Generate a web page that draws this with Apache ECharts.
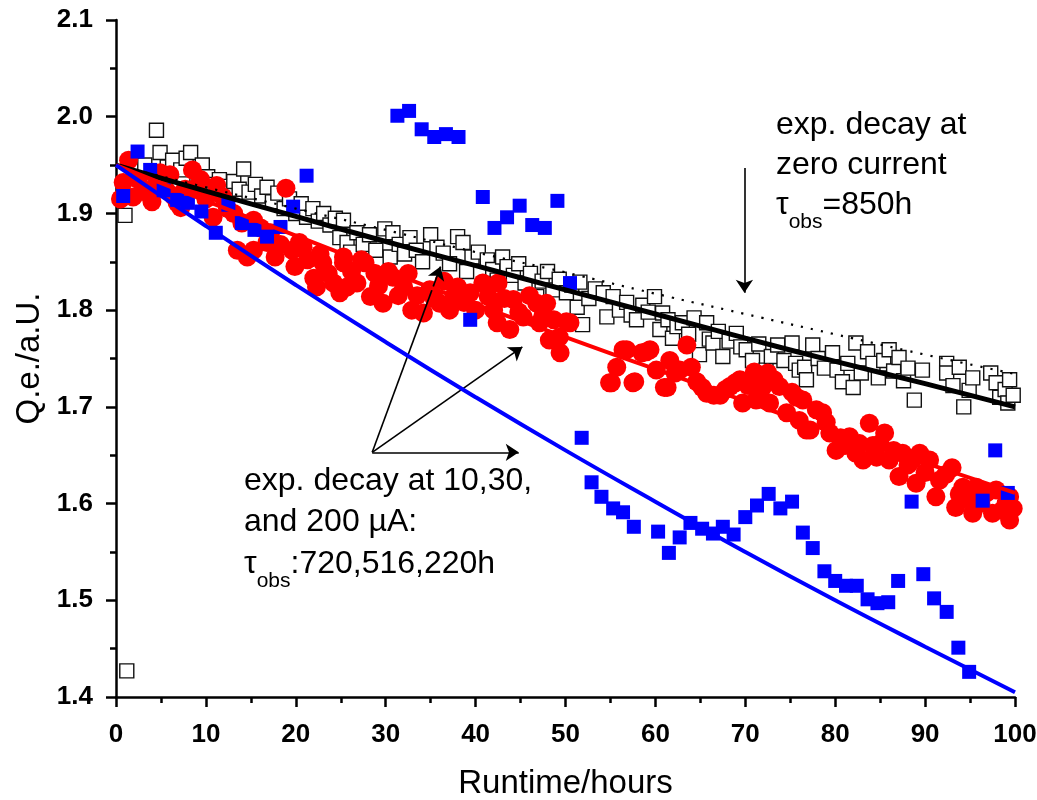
<!DOCTYPE html>
<html>
<head>
<meta charset="utf-8">
<script src="https://cdn.jsdelivr.net/npm/echarts@6/dist/echarts.min.js"></script>
<style>
  html, body { margin: 0; padding: 0; background: #fff; }
  #chart { width: 1037px; height: 800px; }
</style>
</head>
<body>
<div id="chart"></div>
<script>
// Runtime (hours) vs. quantum efficiency, three operating currents

// Zero current: open squares [hours, Q.e.]
const zeroCurrent = [
  [1.0,1.898],[1.2,1.427],[2.5,1.945],[3.2,1.950],[4.5,1.986],[4.9,1.963],[5.7,1.948],[6.3,1.955],
  [7.2,1.945],[7.8,1.957],[8.3,1.963],[9.0,1.940],[9.6,1.950],[10.2,1.938],[10.9,1.930],[11.5,1.935],
  [12.2,1.928],[13.1,1.933],[13.7,1.925],[14.2,1.946],[14.8,1.922],[15.5,1.930],[16.2,1.918],[16.8,1.927],
  [17.4,1.912],[18.0,1.921],[18.7,1.905],[19.3,1.915],[20.0,1.900],[20.6,1.910],[21.2,1.896],[21.9,1.905],
  [22.5,1.892],[23.1,1.900],[23.8,1.888],[24.4,1.895],[24.9,1.875],[25.3,1.893],[25.7,1.870],[26.1,1.860],
  [26.8,1.880],[27.5,1.868],[28.2,1.878],[28.9,1.862],[29.9,1.884],[30.5,1.855],[30.8,1.880],[31.5,1.868],
  [32.1,1.858],[32.7,1.875],[33.4,1.862],[34.1,1.850],[35.0,1.878],[35.7,1.865],[36.4,1.859],[37.1,1.848],
  [38.0,1.876],[38.6,1.870],[39.0,1.840],[39.6,1.855],[40.3,1.860],[41.3,1.852],[41.9,1.842],[42.4,1.831],
  [43.0,1.855],[43.5,1.845],[44.2,1.836],[44.8,1.848],[45.5,1.828],[46.1,1.838],[46.8,1.814],[47.4,1.830],
  [48.0,1.840],[48.6,1.821],[49.3,1.832],[50.1,1.818],[50.7,1.826],[51.3,1.803],[51.6,1.829],[51.9,1.785],
  [52.6,1.812],[53.3,1.822],[54.2,1.818],[54.6,1.793],[55.3,1.814],[56.0,1.800],[56.8,1.808],[57.3,1.795],
  [57.9,1.790],[58.6,1.805],[59.2,1.798],[59.9,1.814],[60.5,1.780],[60.8,1.797],[61.4,1.790],[61.9,1.771],
  [62.4,1.783],[63.0,1.787],[63.7,1.775],[64.3,1.792],[64.9,1.754],[65.7,1.787],[66.0,1.770],[66.4,1.766],
  [67.0,1.778],[67.5,1.752],[68.2,1.768],[69.0,1.776],[69.5,1.762],[70.1,1.759],[70.8,1.748],[71.5,1.765],
  [72.3,1.738],[72.9,1.752],[73.6,1.764],[74.3,1.748],[75.2,1.766],[75.6,1.745],[76.0,1.738],[76.6,1.741],
  [76.8,1.728],[77.5,1.764],[78.1,1.750],[78.8,1.740],[79.7,1.756],[80.2,1.738],[80.8,1.726],[81.4,1.745],
  [82.0,1.720],[82.3,1.766],[82.9,1.735],[83.6,1.757],[84.2,1.745],[84.8,1.730],[85.4,1.748],[86.0,1.759],
  [86.5,1.737],[87.1,1.751],[87.6,1.727],[88.1,1.740],[88.8,1.707],[89.7,1.738],[92.4,1.745],[92.4,1.735],
  [93.1,1.722],[93.8,1.741],[94.3,1.700],[94.9,1.717],[95.3,1.730],[97.3,1.735],[97.9,1.725],[98.3,1.710],
  [98.9,1.718],[99.2,1.704],[99.4,1.728],[99.8,1.712]
];

// 10 µA: filled circles
const current10 = [
  [0.5,1.915],[0.8,1.932],[1.4,1.955],[1.9,1.917],[2.5,1.935],[3.0,1.925],[3.5,1.921],[4.0,1.912],
  [4.5,1.930],[4.9,1.942],[5.5,1.925],[6.0,1.940],[6.4,1.918],[6.8,1.911],[7.2,1.906],[7.7,1.925],
  [8.5,1.945],[9.0,1.927],[9.4,1.935],[10.0,1.915],[10.8,1.896],[11.2,1.929],[11.9,1.917],[12.4,1.905],
  [13.1,1.900],[13.5,1.862],[14.0,1.890],[14.6,1.855],[15.3,1.862],[15.3,1.893],[16.1,1.885],[16.8,1.870],
  [17.2,1.880],[17.7,1.855],[18.3,1.868],[18.9,1.926],[19.6,1.862],[19.9,1.845],[20.4,1.870],[20.8,1.865],
  [21.3,1.852],[22.0,1.833],[22.3,1.824],[22.7,1.858],[23.0,1.849],[23.6,1.838],[24.2,1.828],[24.9,1.818],
  [25.3,1.849],[25.3,1.855],[25.7,1.824],[26.2,1.840],[26.8,1.828],[27.3,1.852],[27.7,1.849],[28.3,1.814],
  [28.8,1.838],[29.2,1.825],[29.7,1.807],[30.3,1.840],[30.8,1.834],[31.4,1.815],[32.0,1.824],[32.5,1.838],
  [32.9,1.800],[33.5,1.815],[34.2,1.797],[34.9,1.821],[35.4,1.812],[36.0,1.807],[36.5,1.830],[37.1,1.800],
  [37.6,1.815],[38.0,1.824],[38.7,1.808],[39.4,1.818],[40.0,1.800],[40.8,1.828],[41.4,1.814],[42.0,1.800],
  [42.4,1.787],[42.5,1.828],[43.2,1.812],[43.8,1.780],[44.2,1.811],[44.8,1.798],[45.3,1.793],[46.0,1.815],
  [46.8,1.807],[47.1,1.787],[47.5,1.795],[47.9,1.807],[48.2,1.769],[48.7,1.790],[49.3,1.772],[49.4,1.756],
  [50.1,1.788],[50.5,1.787],
  [54.9,1.725],[55.1,1.725],[55.7,1.741],[56.4,1.759],[56.8,1.759],[57.5,1.725],[57.7,1.726],[58.5,1.756],
  [59.0,1.757],[59.4,1.759],[60.1,1.738],[61.0,1.720],[61.3,1.720],[61.6,1.748],[62.2,1.735],[62.7,1.738],
  [63.5,1.764],[64.0,1.741],[64.6,1.726],[65.2,1.720],[65.7,1.714],[66.5,1.712],[67.2,1.712],[67.8,1.718],
  [68.3,1.721],[68.9,1.725],[69.4,1.728],[69.7,1.704],[70.3,1.722],[71.0,1.736],[71.2,1.707],[71.9,1.720],
  [72.5,1.735],[72.7,1.704],[73.2,1.728],[73.8,1.721],[74.6,1.694],[75.2,1.715],[75.7,1.710],[76.0,1.686],
  [76.4,1.707],[76.8,1.676],[77.2,1.676],[77.9,1.697],[78.6,1.694],[79.0,1.684],[79.4,1.673],[80.1,1.655],
  [80.6,1.668],[81.1,1.660],[81.6,1.669],[82.3,1.652],[82.7,1.662],[83.1,1.645],[83.8,1.683],[84.2,1.660],
  [84.6,1.648],[85.0,1.662],[85.5,1.673],[86.0,1.645],[86.5,1.655],[87.1,1.628],[87.5,1.652],[88.1,1.640],
  [88.6,1.645],[89.0,1.621],[89.4,1.652],[90.0,1.632],[90.5,1.645],[91.2,1.607],[91.6,1.624],[92.3,1.630],
  [93.0,1.637],[93.4,1.596],[93.8,1.610],[94.2,1.617],[94.8,1.605],[95.3,1.590],[95.7,1.617],[96.2,1.600],
  [96.8,1.611],[97.5,1.590],[97.9,1.614],[98.6,1.593],[99.0,1.600],[99.4,1.583],[99.4,1.607],[99.8,1.595]
];

// 200 µA: filled squares
const current200 = [
  [0.8,1.918],[2.4,1.964],[3.8,1.945],[5.3,1.924],[6.8,1.914],[8.0,1.911],[9.5,1.902],[11.1,1.880],
  [12.5,1.909],[14.0,1.890],[15.4,1.883],[16.8,1.876],[18.3,1.886],[19.7,1.907],[21.2,1.939],
  [31.3,2.001],[32.6,2.006],[34.0,1.987],[35.4,1.979],[36.7,1.982],[38.1,1.979],[39.4,1.790],[40.8,1.917],
  [42.1,1.885],[43.5,1.896],[44.9,1.908],[46.3,1.888],[47.7,1.885],[49.1,1.913],[50.5,1.828],[51.8,1.668],
  [52.9,1.622],[54.0,1.607],[55.3,1.595],[56.4,1.591],[57.6,1.576],[60.3,1.571],[61.5,1.549],[62.7,1.565],
  [63.9,1.580],[65.2,1.574],[66.4,1.569],[67.5,1.576],[68.7,1.568],[70.0,1.586],[71.3,1.598],[72.6,1.610],
  [73.9,1.595],[75.2,1.602],[76.4,1.570],[77.5,1.554],[78.8,1.530],[80.0,1.520],[81.2,1.515],[82.4,1.515],
  [83.6,1.501],[84.7,1.497],[85.9,1.498],[87.0,1.520],[88.5,1.602],[89.8,1.527],[91.0,1.502],[92.4,1.488],
  [93.7,1.451],[94.9,1.426],[96.4,1.603],[97.8,1.655],[99.2,1.611]
];

// Decay curves sampled every 10 h
const curveHours = [0, 10, 20, 30, 40, 50, 60, 70, 80, 90, 100];
const decayZero  = [1.950, 1.927, 1.905, 1.883, 1.860, 1.839, 1.817, 1.796, 1.775, 1.754, 1.734]; // tau 850 h
const decay10    = [1.950, 1.923, 1.897, 1.871, 1.846, 1.821, 1.796, 1.771, 1.747, 1.724, 1.700];
const decay30    = [1.950, 1.913, 1.877, 1.841, 1.806, 1.772, 1.739, 1.706, 1.673, 1.642, 1.611];
const decay200   = [1.950, 1.887, 1.826, 1.767, 1.710, 1.655, 1.602, 1.550, 1.500, 1.452, 1.405];

// Annotation arrows in data coordinates: [from, to]
const arrows = [
  [[69.9, 1.947], [69.9, 1.818]],
  [[28.5, 1.653], [36.1, 1.845]],
  [[28.5, 1.653], [45.2, 1.762]],
  [[28.5, 1.653], [44.8, 1.653]]
];

const FONT = '"Liberation Sans", Arial, Helvetica, sans-serif';
const pair = (xs, ys) => xs.map((x, i) => [x, ys[i]]);

// Text with subscripts: segments laid out left to right using measured widths
const measureCtx = document.createElement('canvas').getContext('2d');
function textLine(x, baseline, segments) {
  const out = [];
  let cx = x;
  segments.forEach(seg => {
    const size = seg.size;
    measureCtx.font = size + 'px ' + FONT;
    const w = measureCtx.measureText(seg.text).width;
    out.push({
      type: 'text',
      left: cx,
      top: baseline + (seg.dy || 0) - size * 0.92,
      silent: true,
      style: { text: seg.text, fill: '#000', font: size + 'px ' + FONT }
    });
    cx += w;
  });
  return out;
}

const T = 32, S = 21;
const annotations = [].concat(
  textLine(776, 139, [{ text: 'exp. decay at', size: T }]),
  textLine(776, 179, [{ text: 'zero current', size: T }]),
  textLine(776, 219, [{ text: 'τ', size: T }, { text: 'obs', size: S, dy: 12 }, { text: '=850h', size: T }]),
  textLine(244, 495, [{ text: 'exp. decay at 10,30,', size: T }]),
  textLine(244, 536, [{ text: 'and 200 µA:', size: T }]),
  textLine(244, 578, [{ text: 'τ', size: T }, { text: 'obs', size: S, dy: 12 }, { text: ':720,516,220h', size: T }])
);

const chart = echarts.init(document.getElementById('chart'), null, { renderer: 'canvas' });

const axisCommon = {
  axisLine: { show: true, onZero: false, lineStyle: { color: '#000', width: 2.5 } },
  axisTick: { show: true, length: 10, lineStyle: { color: '#000', width: 2.5 } },
  minorTick: { show: true, splitNumber: 2, length: 6, lineStyle: { color: '#000', width: 2.5 } },
  splitLine: { show: false },
  minorSplitLine: { show: false },
  nameTextStyle: { color: '#000', fontSize: 33, fontFamily: FONT },
  nameLocation: 'middle'
};

chart.setOption({
  animation: false,
  backgroundColor: '#fff',
  grid: { left: 116, right: 22, top: 20, bottom: 103, containLabel: false, outerBoundsMode: 'none' },
  xAxis: Object.assign({}, axisCommon, {
    type: 'value', min: 0, max: 100, interval: 10,
    name: 'Runtime/hours', nameGap: 70,
    axisLabel: { color: '#000', fontSize: 26, fontWeight: 'bold', fontFamily: FONT, margin: 25 }
  }),
  yAxis: Object.assign({}, axisCommon, {
    type: 'value', min: 1.4, max: 2.1, interval: 0.1,
    name: 'Q.e./a.U.', nameGap: 70, nameRotate: 90,
    axisLabel: { color: '#000', fontSize: 26, fontWeight: 'bold', fontFamily: FONT, margin: 23,
                 formatter: v => v.toFixed(1) }
  }),
  graphic: annotations,
  series: [
    {
      name: 'zero current', type: 'scatter', data: zeroCurrent, z: 2,
      symbol: 'rect', symbolSize: 14,
      itemStyle: { color: '#fff', borderColor: '#111', borderWidth: 1.4, opacity: 1 }
    },
    {
      name: '10 µA', type: 'scatter', data: current10, z: 3,
      symbol: 'circle', symbolSize: 19,
      itemStyle: { color: '#ff0000', opacity: 1 }
    },
    {
      name: '200 µA', type: 'scatter', data: current200, z: 4,
      symbol: 'rect', symbolSize: 14,
      itemStyle: { color: '#0000ff', opacity: 1 }
    },
    {
      name: 'tau 850 h', type: 'line', data: pair(curveHours, decayZero), z: 5,
      symbol: 'none', smooth: true,
      lineStyle: { color: '#000', width: 2.2, type: [2.2, 8] }
    },
    {
      name: 'fit 10', type: 'line', data: pair(curveHours, decay10), z: 6,
      symbol: 'none', smooth: true,
      lineStyle: { color: '#000', width: 5 }
    },
    {
      name: 'fit 30', type: 'line', data: pair(curveHours, decay30), z: 6,
      symbol: 'none', smooth: true,
      lineStyle: { color: '#ff0000', width: 4 }
    },
    {
      name: 'fit 200', type: 'line', data: pair(curveHours, decay200), z: 6,
      symbol: 'none', smooth: true,
      lineStyle: { color: '#0000ff', width: 4 }
    },
    {
      name: 'arrows', type: 'line', data: [], z: 7,
      markLine: {
        silent: true, animation: false,
        symbol: ['none', 'arrow'], symbolSize: 13,
        label: { show: false },
        lineStyle: { color: '#000', width: 1.6, type: 'solid' },
        emphasis: { disabled: true },
        data: arrows.map(a => [{ coord: a[0] }, { coord: a[1] }])
      }
    }
  ]
});
</script>
</body>
</html>
